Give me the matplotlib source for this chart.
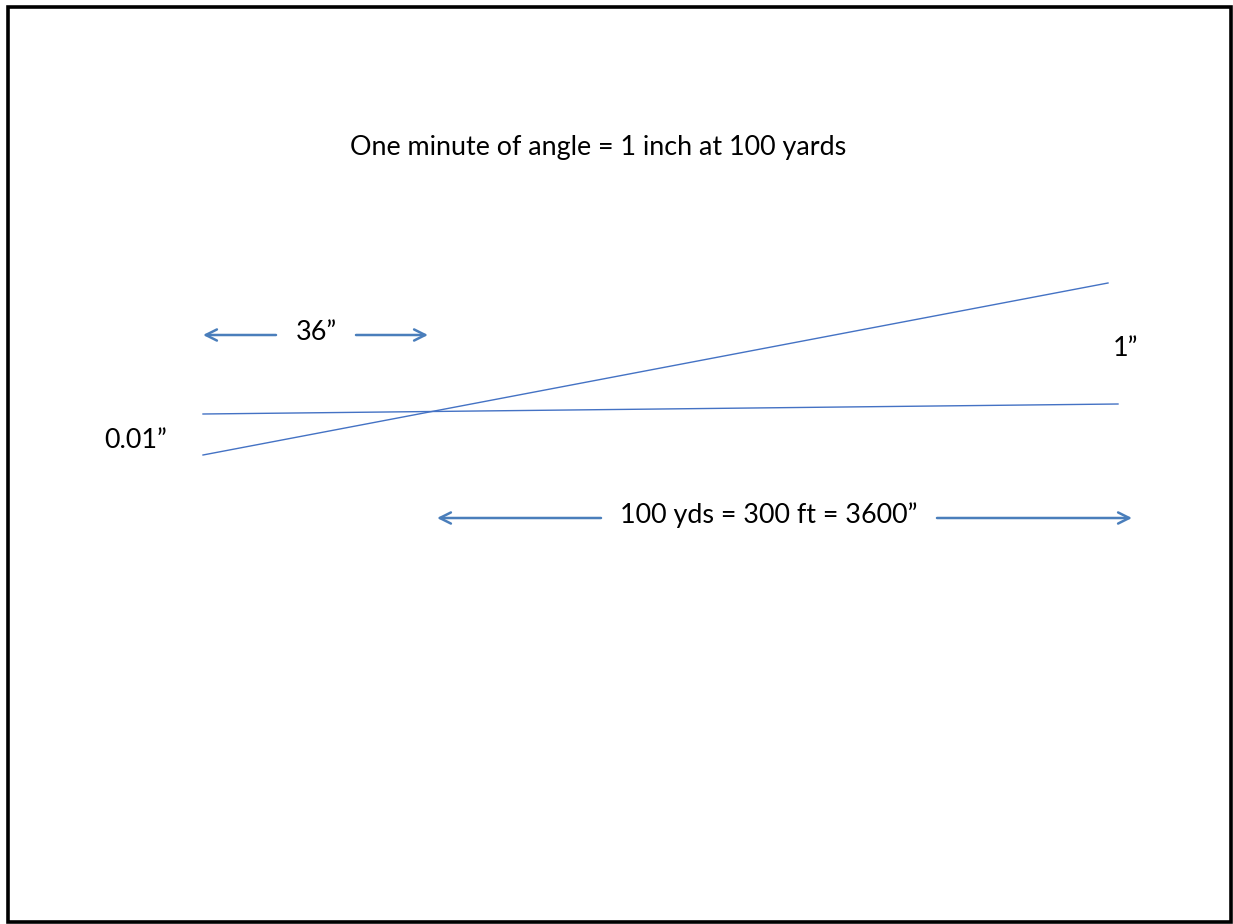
import matplotlib.pyplot as plt
from matplotlib.patches import Rectangle

plt.rcParams['font.family'] = ['Lato', 'DejaVu Sans']

# diagram geometry, in slide pixels (origin top-left)
title = "One minute of angle = 1 inch at 100 yards"
flat_line = [(203, 414), (1118, 404)]
steep_line = [(203, 455), (1108, 283)]
short_arrow = {"left": (276, 203), "right": (356, 428), "y": 335, "label": "36\u201d"}
long_arrow = {"left": (601, 437), "right": (937, 1132), "y": 518,
              "label": "100 yds = 300 ft = 3600\u201d"}
side_labels = [("1\u201d", 1126, 349), ("0.01\u201d", 136, 441)]

W, H = 1233, 924
blue = "#4472C4"
arrow_blue = "#4A7EBB"
fs = 19.4

fig = plt.figure(figsize=(W / 100, H / 100), dpi=100)
ax = fig.add_axes([0, 0, 1, 1])
ax.set_xlim(0, W)
ax.set_ylim(H, 0)
ax.axis("off")

ax.add_patch(Rectangle((7.5, 6.5), 1223, 915, fill=False, lw=2.6, ec="black"))

ax.text(598, 148, title, ha="center", va="center", fontsize=fs)

for pts in (flat_line, steep_line):
  xs, ys = zip(*pts)
  ax.plot(xs, ys, color=blue, lw=1.0)

for arr in (short_arrow, long_arrow):
  y = arr["y"]
  for start, tip in (arr["left"], arr["right"]):
    ax.annotate("", xy=(tip, y), xytext=(start, y),
                arrowprops=dict(arrowstyle="->,head_length=0.8,head_width=0.4",
                                color=arrow_blue, lw=1.8,
                                shrinkA=0, shrinkB=0))
  mid = (arr["left"][0] + arr["right"][0]) / 2
  ax.text(mid, y - 3, arr["label"], ha="center", va="center", fontsize=fs)

for label, x, y in side_labels:
  ax.text(x, y, label, ha="center", va="center", fontsize=fs)

fig.savefig("out.png", dpi=100)
